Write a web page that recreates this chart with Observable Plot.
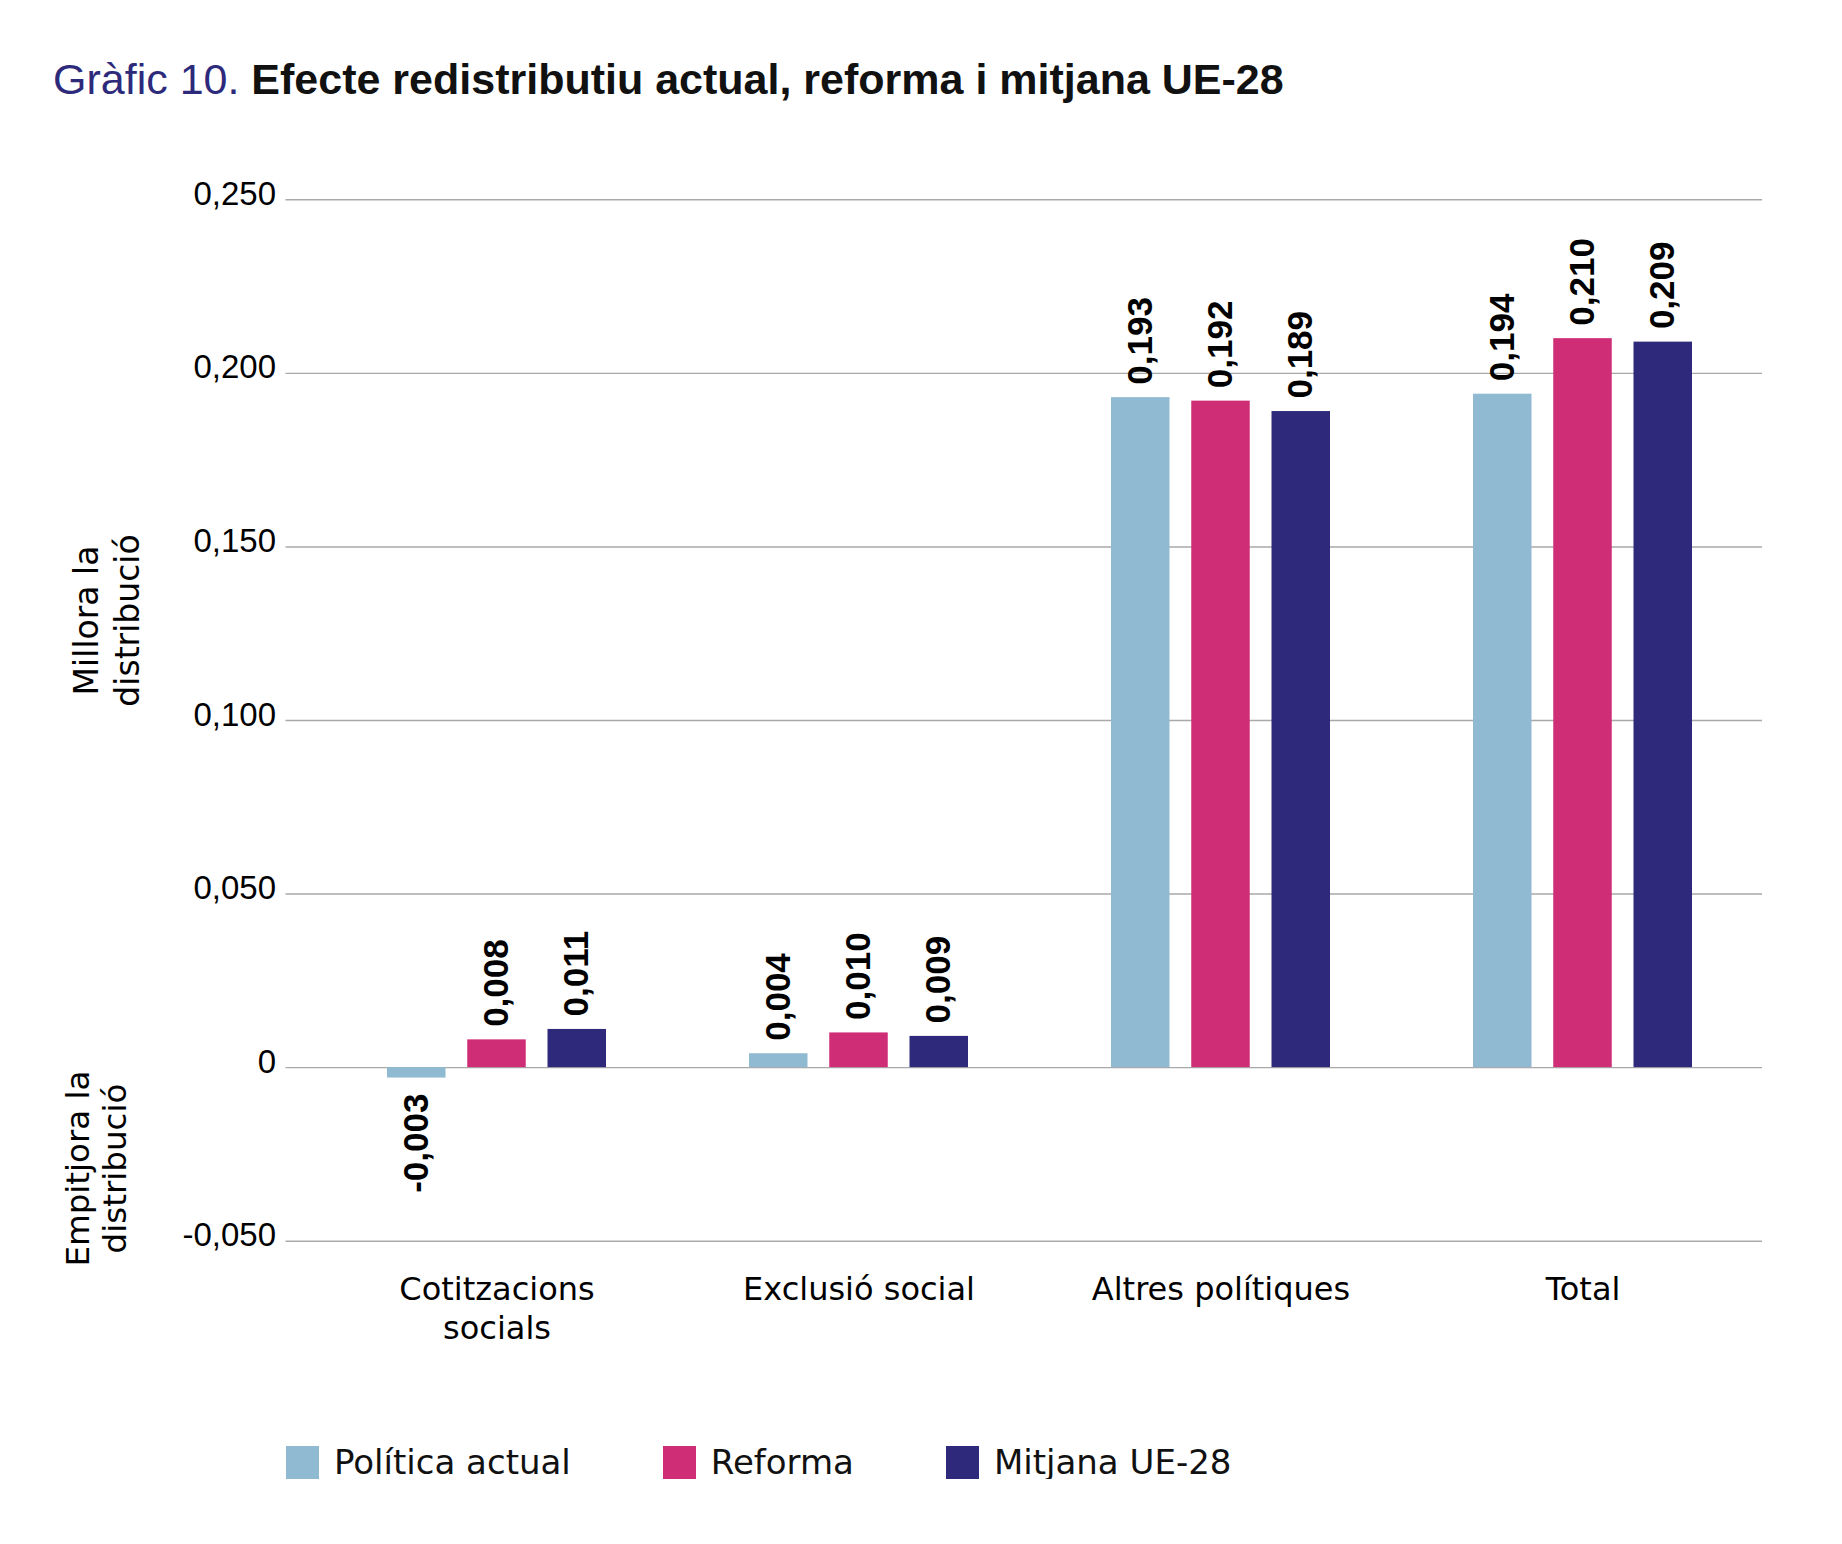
<!DOCTYPE html>
<html>
<head>
<meta charset="utf-8">
<script src="https://cdn.jsdelivr.net/npm/d3@7"></script>
<script src="https://cdn.jsdelivr.net/npm/@observablehq/plot@0.6"></script>
<style>
  html, body { margin: 0; padding: 0; background: #fff; overflow: hidden; }
  #page { position: relative; width: 1842px; }
  #title { position: relative; height: 150px; }
  #title span.t { position: absolute; left: 53px; top: 58px; font-family: "Liberation Sans", Arial, sans-serif; font-size: 43px; line-height: 1; white-space: nowrap; }
  #title .num { color: #2e2a7b; font-weight: normal; }
  #title .main { color: #111; font-weight: bold; }
  #chart svg { display: block; }
  #legend { display: flex; align-items: center; padding-left: 286px; margin-top: 46px; font-family: "DejaVu Sans", sans-serif; font-size: 34px; color: #111; }
  #legend .item { display: flex; align-items: center; margin-right: 92px; }
  #legend .sw { width: 33px; height: 33px; margin-right: 15px; }
  #legend .lab { line-height: 33px; white-space: nowrap; }
</style>
</head>
<body>
<div id="page">
  <div id="title"><span class="t"><span class="num">Gràfic 10.</span> <span class="main">Efecte redistributiu actual, reforma i mitjana UE-28</span></span></div>
  <div id="chart"></div>
  <div id="legend"></div>
</div>
<script>
// ---- data ----
const categories = ["Cotitzacions socials", "Exclusió social", "Altres polítiques", "Total"];
const categoryLabels = ["Cotitzacions\nsocials", "Exclusió social", "Altres polítiques", "Total"];
const series = ["Política actual", "Reforma", "Mitjana UE-28"];
const politicaActual = [-0.003, 0.004, 0.193, 0.194];
const reforma = [0.008, 0.010, 0.192, 0.210];
const mitjanaUE28 = [0.011, 0.009, 0.189, 0.209];
const yTicks = [-0.05, 0, 0.05, 0.10, 0.15, 0.20, 0.25];
const axisTitleUp = "Millora la\ndistribució";
const axisTitleDown = "Empitjora la\ndistribució";

// ---- styles (kept apart from data) ----
const colors = ["#8fbad1", "#cf2e77", "#2e297b"];
const barW = 58.5, gap = 21.75;           // px
const offsets = [-(barW + gap), 0, barW + gap]; // px offset of each series from group centre

const seriesValues = [politicaActual, reforma, mitjanaUE28];
const data = categories.flatMap((c, i) => series.map((s, j) => ({category: c, series: s, value: seriesValues[j][i]})));

const fmt3 = v => d3.format(".3f")(v).replace("\u2212", "-").replace(".", ",");
const tickFmt = v => v === 0 ? "0" : fmt3(v);

const W = 1842, H = 1250;
const groupW = 3 * barW + 2 * gap;

const marks = [
  Plot.gridY(yTicks, {stroke: "#a9a9a9", strokeOpacity: 1, strokeWidth: 1.4})
];

series.forEach((s, j) => {
  const sub = data.filter(d => d.series === s);
  const left = j * (barW + gap);
  marks.push(Plot.barY(sub, {
    x: "category", y: "value", fill: "series",
    insetLeft: left, insetRight: groupW - barW - left
  }));
});

series.forEach((s, j) => {
  const pos = data.filter(d => d.series === s && d.value >= 0);
  const neg = data.filter(d => d.series === s && d.value < 0);
  const common = {x: "category", y: "value", text: d => fmt3(d.value), rotate: -90, dx: offsets[j],
    fontSize: 35, fontWeight: "bold", fontFamily: "Liberation Sans, Arial, sans-serif", fill: "#000", lineAnchor: "middle"};
  marks.push(Plot.text(pos, {...common, textAnchor: "start", dy: -13}));
  marks.push(Plot.text(neg, {...common, textAnchor: "end", dy: 15.5}));
});

marks.push(
  Plot.axisY(yTicks, {tickSize: 0, tickPadding: 10, tickFormat: tickFmt, fontSize: 33, label: null,
    fontFamily: "Liberation Sans, Arial, sans-serif", dy: -5.5, fill: "#000"}),
  Plot.axisX({tickSize: 0, tickPadding: 31, fontSize: 32, fontFamily: "DejaVu Sans, sans-serif", label: null,
    tickFormat: d => categoryLabels[categories.indexOf(d)], lineHeight: 1.22, fill: "#000"}),
  Plot.text([axisTitleUp], {text: d => d, frameAnchor: "left", rotate: -90, dx: -181, dy: -100,
    fontSize: 33, fontFamily: "DejaVu Sans, sans-serif", lineHeight: 1.26, textAnchor: "middle", lineAnchor: "middle", fill: "#000"}),
  Plot.text([axisTitleDown], {text: d => d, frameAnchor: "left", rotate: -90, dx: -190, dy: 448,
    fontSize: 32.5, fontFamily: "DejaVu Sans, sans-serif", lineHeight: 1.14, textAnchor: "middle", lineAnchor: "middle", fill: "#000"})
);

const chart = Plot.plot({
  width: W, height: H,
  marginLeft: 285.5, marginRight: 80, marginTop: 49.3, marginBottom: 159.3,
  style: {fontFamily: "Liberation Sans, Arial, sans-serif", color: "#000", background: "#fff", overflow: "visible"},
  x: {domain: categories, paddingInner: 0.3954, paddingOuter: 0.2359, align: 0.592, label: null},
  y: {domain: [-0.05, 0.25], label: null},
  color: {domain: series, range: colors},
  marks
});
document.getElementById("chart").appendChild(chart);

// legend
const legend = document.getElementById("legend");
series.forEach((s, j) => {
  const it = document.createElement("div"); it.className = "item";
  const sw = document.createElement("div"); sw.className = "sw"; sw.style.background = colors[j];
  const lab = document.createElement("span"); lab.className = "lab"; lab.textContent = s;
  it.appendChild(sw); it.appendChild(lab); legend.appendChild(it);
});
</script>
</body>
</html>
